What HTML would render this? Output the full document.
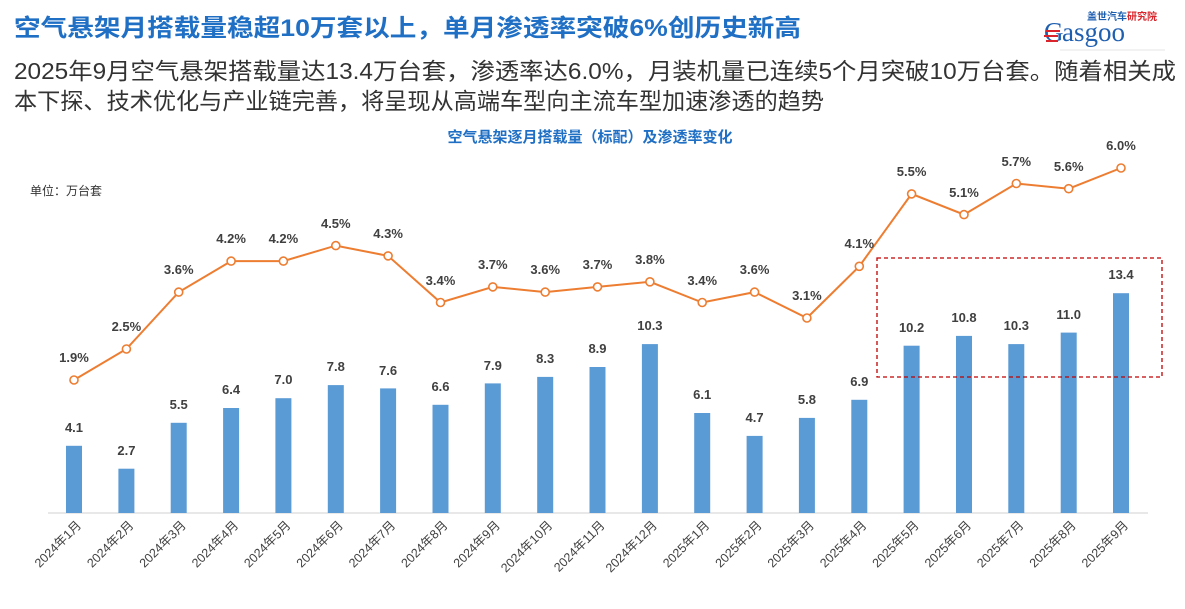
<!DOCTYPE html>
<html><head><meta charset="utf-8"><style>
body{margin:0;width:1185px;height:609px;background:#fff;overflow:hidden;font-family:"Liberation Sans","Noto Sans CJK SC",sans-serif;}
</style></head><body>
<svg width="1185" height="609" xmlns="http://www.w3.org/2000/svg" style="position:absolute;left:0;top:0;font-family:'Liberation Sans','Noto Sans CJK SC',sans-serif">
<text x="14" y="36" font-size="24" font-weight="bold" fill="#1f6fc5" textLength="787" lengthAdjust="spacingAndGlyphs">空气悬架月搭载量稳超10万套以上，单月渗透率突破6%创历史新高</text>
<text x="14" y="79" font-size="23" fill="#333" textLength="1162" lengthAdjust="spacingAndGlyphs">2025年9月空气悬架搭载量达13.4万台套，渗透率达6.0%，月装机量已连续5个月突破10万台套。随着相关成</text>
<text x="14" y="109" font-size="23" fill="#333" textLength="810" lengthAdjust="spacingAndGlyphs">本下探、技术优化与产业链完善，将呈现从高端车型向主流车型加速渗透的趋势</text>
<text x="1087" y="20" font-size="10" font-weight="bold" fill="#1f5fb0">盖世汽车<tspan fill="#d9252b">研究院</tspan></text>
<text x="1062" y="41" font-size="27" font-family="'Liberation Serif',serif" fill="#1f5fb0">asgoo</text>
<text x="1044" y="41" font-size="27" font-family="'Liberation Serif',serif" fill="#1f5fb0">G</text>
<rect x="1046" y="30" width="14" height="2" fill="#d9252b"/><rect x="1044" y="35" width="14" height="2" fill="#d9252b"/><rect x="1046" y="40" width="12" height="2" fill="#d9252b"/>
<line x1="1060" y1="50" x2="1165" y2="50" stroke="#ccc" stroke-width="0.6"/>
<text x="590" y="142" font-size="15" font-weight="bold" fill="#1f6fc5" text-anchor="middle">空气悬架逐月搭载量（标配）及渗透率变化</text>
<text x="30" y="195" font-size="12" fill="#333">单位：万台套</text>
<line x1="48" y1="513" x2="1148" y2="513" stroke="#d0d0d0" stroke-width="1"/>
<g fill="#5b9bd5">
<rect x="66" y="445.8" width="16" height="67.2"/><rect x="118.4" y="468.7" width="16" height="44.3"/><rect x="170.7" y="422.8" width="16" height="90.2"/><rect x="223.1" y="408" width="16" height="105"/><rect x="275.4" y="398.2" width="16" height="114.8"/><rect x="327.8" y="385.1" width="16" height="127.9"/><rect x="380.1" y="388.4" width="16" height="124.6"/><rect x="432.5" y="404.8" width="16" height="108.2"/><rect x="484.8" y="383.4" width="16" height="129.6"/><rect x="537.2" y="376.9" width="16" height="136.1"/><rect x="589.5" y="367" width="16" height="146"/><rect x="641.9" y="344.1" width="16" height="168.9"/><rect x="694.2" y="413" width="16" height="100"/><rect x="746.6" y="435.9" width="16" height="77.1"/><rect x="798.9" y="417.9" width="16" height="95.1"/><rect x="851.3" y="399.8" width="16" height="113.2"/><rect x="903.6" y="345.7" width="16" height="167.3"/><rect x="956" y="335.9" width="16" height="177.1"/><rect x="1008.3" y="344.1" width="16" height="168.9"/><rect x="1060.7" y="332.6" width="16" height="180.4"/><rect x="1113" y="293.2" width="16" height="219.8"/>
</g>
<g font-size="13" font-weight="bold" fill="#404040" text-anchor="middle">
<text x="74" y="432">4.1</text><text x="126.4" y="455">2.7</text><text x="178.7" y="409">5.5</text><text x="231.1" y="394">6.4</text><text x="283.4" y="384">7.0</text><text x="335.8" y="371">7.8</text><text x="388.1" y="375">7.6</text><text x="440.5" y="391">6.6</text><text x="492.8" y="370">7.9</text><text x="545.2" y="363">8.3</text><text x="597.5" y="353">8.9</text><text x="649.9" y="330">10.3</text><text x="702.2" y="399">6.1</text><text x="754.6" y="422">4.7</text><text x="806.9" y="404">5.8</text><text x="859.3" y="386">6.9</text><text x="911.6" y="332">10.2</text><text x="964" y="322">10.8</text><text x="1016.3" y="330">10.3</text><text x="1068.7" y="319">11.0</text><text x="1121" y="279">13.4</text>
</g>
<polyline fill="none" stroke="#ed7d31" stroke-width="2" points="74,380 126.4,349 178.7,292.1 231.1,261.1 283.4,261.1 335.8,245.6 388.1,255.9 440.5,302.5 492.8,286.9 545.2,292.1 597.5,286.9 649.9,281.8 702.2,302.5 754.6,292.1 806.9,318 859.3,266.3 911.6,193.9 964,214.6 1016.3,183.5 1068.7,188.7 1121,168"/>
<g fill="#fff" stroke="#ed7d31" stroke-width="1.6">
<circle cx="74" cy="380" r="4"/><circle cx="126.4" cy="349" r="4"/><circle cx="178.7" cy="292.1" r="4"/><circle cx="231.1" cy="261.1" r="4"/><circle cx="283.4" cy="261.1" r="4"/><circle cx="335.8" cy="245.6" r="4"/><circle cx="388.1" cy="255.9" r="4"/><circle cx="440.5" cy="302.5" r="4"/><circle cx="492.8" cy="286.9" r="4"/><circle cx="545.2" cy="292.1" r="4"/><circle cx="597.5" cy="286.9" r="4"/><circle cx="649.9" cy="281.8" r="4"/><circle cx="702.2" cy="302.5" r="4"/><circle cx="754.6" cy="292.1" r="4"/><circle cx="806.9" cy="318" r="4"/><circle cx="859.3" cy="266.3" r="4"/><circle cx="911.6" cy="193.9" r="4"/><circle cx="964" cy="214.6" r="4"/><circle cx="1016.3" cy="183.5" r="4"/><circle cx="1068.7" cy="188.7" r="4"/><circle cx="1121" cy="168" r="4"/>
</g>
<g font-size="13" font-weight="bold" fill="#404040" text-anchor="middle">
<text x="74" y="362">1.9%</text><text x="126.4" y="331">2.5%</text><text x="178.7" y="274">3.6%</text><text x="231.1" y="243">4.2%</text><text x="283.4" y="243">4.2%</text><text x="335.8" y="228">4.5%</text><text x="388.1" y="238">4.3%</text><text x="440.5" y="285">3.4%</text><text x="492.8" y="269">3.7%</text><text x="545.2" y="274">3.6%</text><text x="597.5" y="269">3.7%</text><text x="649.9" y="264">3.8%</text><text x="702.2" y="285">3.4%</text><text x="754.6" y="274">3.6%</text><text x="806.9" y="300">3.1%</text><text x="859.3" y="248">4.1%</text><text x="911.6" y="176">5.5%</text><text x="964" y="197">5.1%</text><text x="1016.3" y="166">5.7%</text><text x="1068.7" y="171">5.6%</text><text x="1121" y="150">6.0%</text>
</g>
<rect x="877" y="258" width="285" height="119" fill="none" stroke="#c00000" stroke-width="1.3" stroke-dasharray="4,3"/>
<g font-size="12.5" fill="#404040" text-anchor="end">
<text transform="translate(82,526) rotate(-45)">2024年1月</text><text transform="translate(134.4,526) rotate(-45)">2024年2月</text><text transform="translate(186.7,526) rotate(-45)">2024年3月</text><text transform="translate(239.1,526) rotate(-45)">2024年4月</text><text transform="translate(291.4,526) rotate(-45)">2024年5月</text><text transform="translate(343.8,526) rotate(-45)">2024年6月</text><text transform="translate(396.1,526) rotate(-45)">2024年7月</text><text transform="translate(448.5,526) rotate(-45)">2024年8月</text><text transform="translate(500.8,526) rotate(-45)">2024年9月</text><text transform="translate(553.2,526) rotate(-45)">2024年10月</text><text transform="translate(605.5,526) rotate(-45)">2024年11月</text><text transform="translate(657.9,526) rotate(-45)">2024年12月</text><text transform="translate(710.2,526) rotate(-45)">2025年1月</text><text transform="translate(762.6,526) rotate(-45)">2025年2月</text><text transform="translate(814.9,526) rotate(-45)">2025年3月</text><text transform="translate(867.3,526) rotate(-45)">2025年4月</text><text transform="translate(919.6,526) rotate(-45)">2025年5月</text><text transform="translate(972,526) rotate(-45)">2025年6月</text><text transform="translate(1024.3,526) rotate(-45)">2025年7月</text><text transform="translate(1076.7,526) rotate(-45)">2025年8月</text><text transform="translate(1129,526) rotate(-45)">2025年9月</text>
</g>
</svg>
</body></html>
